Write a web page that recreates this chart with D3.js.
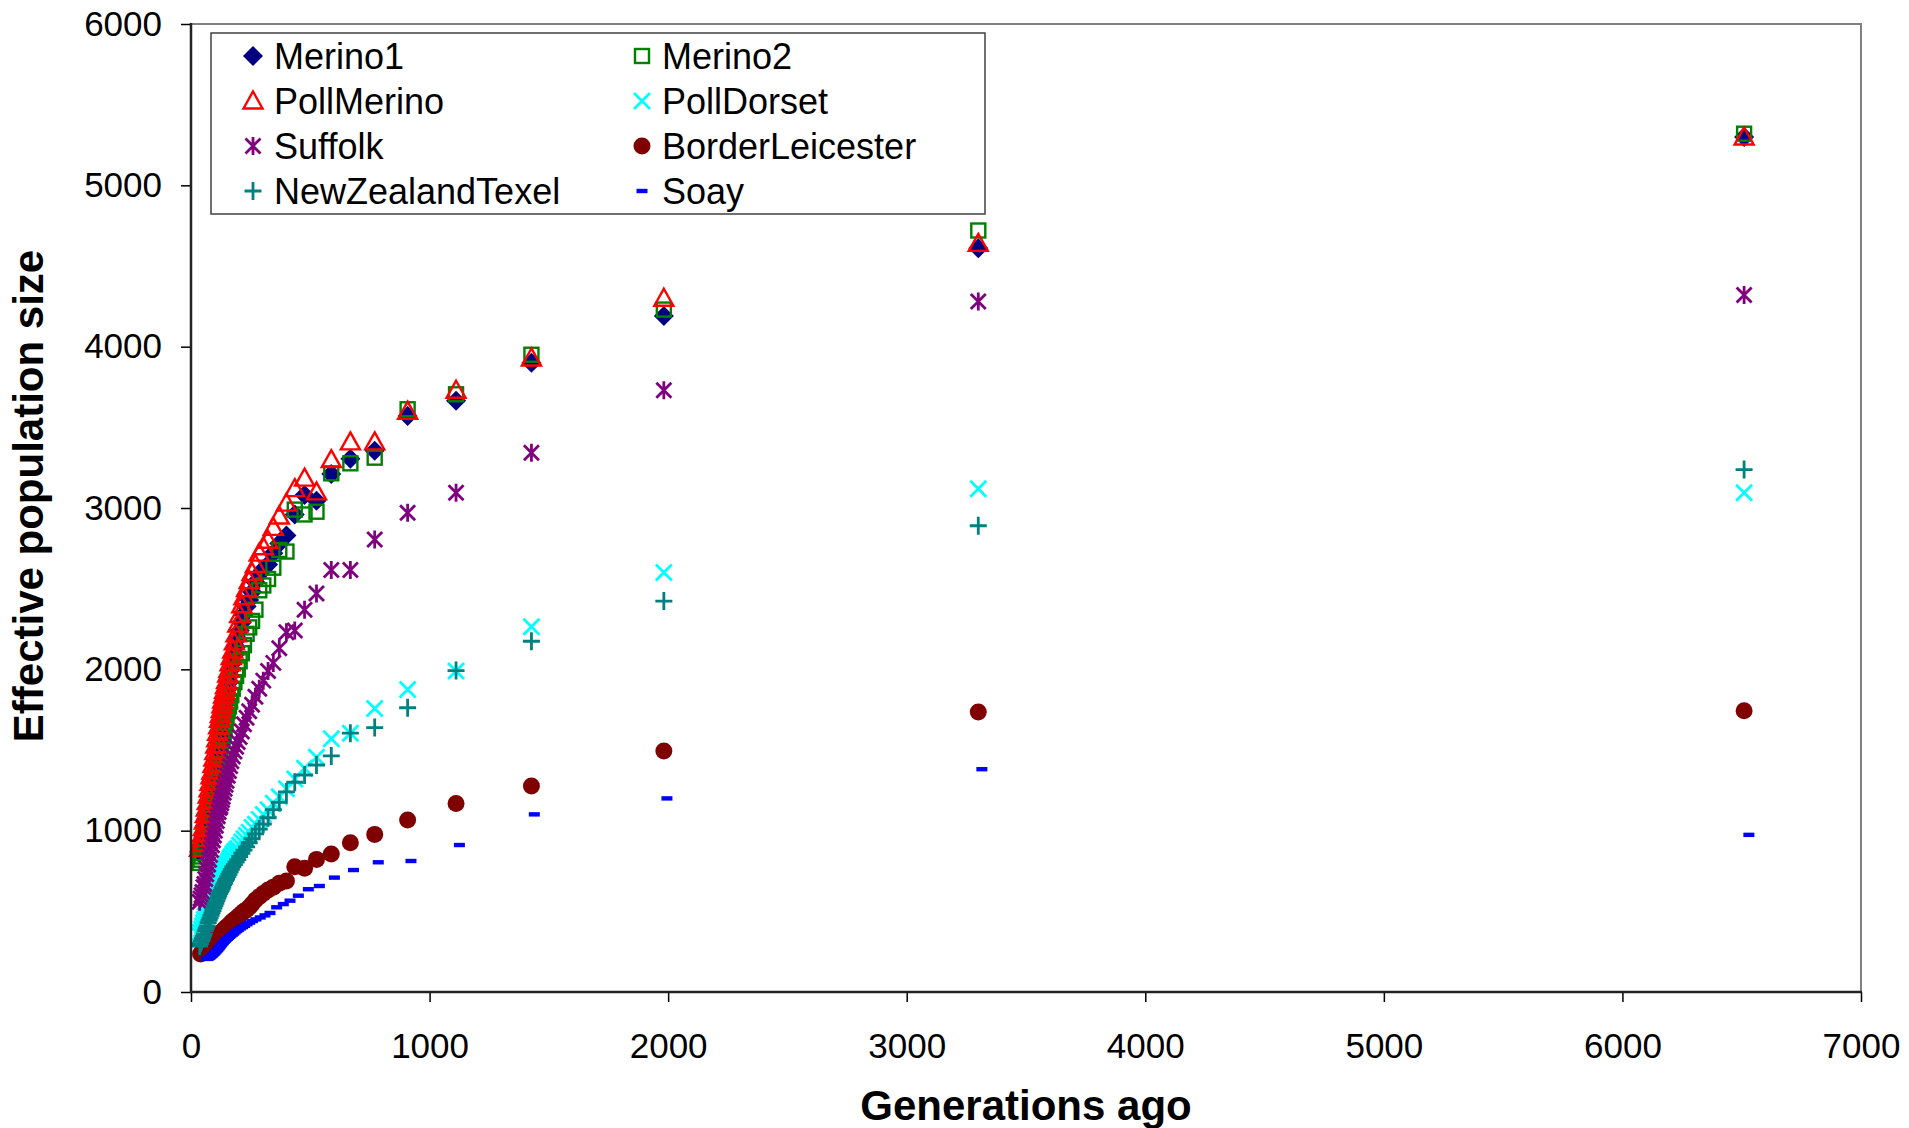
<!DOCTYPE html>
<html><head><meta charset="utf-8">
<script src="https://cdn.jsdelivr.net/npm/d3@7"></script>
<style>body{margin:0;background:#fff} svg{display:block}</style>
</head><body><svg id="c" width="1909" height="1128"></svg>
<script>
// ---- data ----
const generations = [6510, 3300, 1982, 1427, 1111, 908, 770, 668, 588, 526, 476, 435, 400, 370, 345, 323, 303, 286, 270, 256, 244, 233, 222, 213, 204, 196, 189, 182, 175, 169, 164, 159, 154, 149, 145, 141, 137, 133, 130, 127, 123, 120, 116, 112, 108, 104, 100, 96, 92, 88, 84, 80, 76, 72, 68, 64, 60, 56, 52, 48, 44, 40, 36];
const generationsSoay = [6530, 3315, 1995, 1439, 1125, 922, 785, 681, 601, 538, 492, 450, 415, 387, 359, 331, 310, 290, 272, 258, 246, 235, 225, 216, 207, 199, 192, 185, 179, 173, 167, 162, 157, 153, 148, 144, 140, 136, 133, 129, 126, 123, 120, 117, 114, 111, 108, 105, 102, 99, 96, 93, 90, 87, 84, 81, 78, 75, 72, 69, 66];

const merino1 = [5300, 4610, 4190, 3900, 3665, 3570, 3355, 3305, 3210, 3045, 3080, 2960, 2830, 2780, 2720, 2650, 2620, 2590, 2540, 2480, 2430, 2390, 2340, 2290, 2240, 2190, 2140, 2090, 2040, 2000, 1960, 1920, 1880, 1840, 1810, 1780, 1750, 1710, 1680, 1650, 1620, 1590, 1550, 1510, 1480, 1440, 1400, 1360, 1330, 1290, 1250, 1210, 1180, 1140, 1100, 1060, 1030, 990, 960, 930, 900, 880, 860];
const merino2 = [5320, 4720, 4230, 3950, 3705, 3612, 3312, 3277, 3215, 2977, 2960, 2990, 2730, 2740, 2630, 2560, 2520, 2490, 2370, 2300, 2260, 2220, 2150, 2100, 2050, 2000, 1960, 1920, 1880, 1840, 1800, 1770, 1740, 1700, 1670, 1640, 1610, 1580, 1560, 1530, 1500, 1470, 1440, 1400, 1370, 1330, 1300, 1260, 1230, 1190, 1160, 1120, 1090, 1050, 1020, 980, 950, 920, 890, 860, 840, 820, 800];
const pollMerino = [5300, 4640, 4300, 3930, 3730, 3600, 3410, 3410, 3300, 3100, 3185, 3120, 3030, 2950, 2880, 2800, 2760, 2720, 2650, 2600, 2550, 2500, 2450, 2400, 2340, 2280, 2220, 2170, 2120, 2080, 2040, 2000, 1970, 1930, 1900, 1870, 1840, 1810, 1780, 1750, 1720, 1690, 1650, 1610, 1570, 1530, 1490, 1450, 1410, 1370, 1340, 1300, 1260, 1220, 1180, 1140, 1100, 1060, 1020, 980, 950, 920, 890];
const pollDorset = [3094, 3120, 2600, 2264, 1990, 1875, 1757, 1604, 1570, 1455, 1387, 1320, 1260, 1210, 1170, 1130, 1100, 1070, 1040, 1020, 990, 970, 950, 930, 910, 890, 880, 870, 855, 840, 830, 815, 800, 790, 780, 770, 760, 750, 740, 730, 720, 710, 700, 690, 670, 660, 640, 620, 610, 590, 570, 560, 540, 520, 500, 480, 470, 450, 430, 410, 390, 370, 350];
const suffolk = [4320, 4280, 3730, 3343, 3094, 2970, 2805, 2616, 2616, 2470, 2370, 2240, 2230, 2130, 2040, 1990, 1930, 1880, 1830, 1780, 1740, 1700, 1660, 1615, 1580, 1550, 1520, 1490, 1460, 1430, 1400, 1370, 1340, 1310, 1285, 1260, 1235, 1210, 1190, 1170, 1150, 1140, 1115, 1090, 1060, 1030, 1000, 970, 940, 910, 880, 850, 820, 790, 760, 730, 700, 670, 650, 620, 600, 580, 560];
const borderLeicester = [1743, 1736, 1494, 1277, 1168, 1066, 977, 925, 855, 822, 767, 777, 688, 674, 650, 632, 610, 591, 570, 545, 525, 510, 500, 488, 475, 465, 455, 446, 440, 430, 422, 415, 408, 402, 395, 390, 385, 378, 372, 368, 362, 358, 352, 345, 340, 333, 325, 320, 315, 308, 300, 295, 288, 282, 275, 268, 262, 255, 250, 245, 240, 235];
const newZealandTexel = [3238, 2890, 2423, 2174, 1992, 1762, 1639, 1604, 1463, 1407, 1345, 1300, 1240, 1175, 1130, 1080, 1040, 1010, 980, 950, 925, 900, 880, 860, 840, 820, 805, 790, 775, 760, 745, 730, 715, 700, 690, 675, 665, 650, 640, 630, 620, 610, 595, 580, 565, 550, 535, 520, 505, 490, 475, 460, 445, 430, 410, 395, 380, 360, 345, 330, 315, 300, 285];
const soay = [974, 1381, 1200, 1101, 911, 812, 804, 756, 709, 657, 637, 597, 566, 545, 525, 490, 475, 462, 450, 440, 430, 420, 410, 402, 394, 386, 378, 370, 362, 355, 348, 342, 336, 330, 324, 318, 312, 306, 300, 294, 288, 282, 276, 270, 265, 260, 255, 250, 245, 240, 236, 232, 228, 224, 220, 216, 213, 210, 208, 206, 205];

const seriesNames = ["Merino1", "Merino2", "PollMerino", "PollDorset", "Suffolk", "BorderLeicester", "NewZealandTexel", "Soay"];
const xTicks = [0, 1000, 2000, 3000, 4000, 5000, 6000, 7000];
const yTicks = [0, 1000, 2000, 3000, 4000, 5000, 6000];

// ---- setup ----
const W = 1909, H = 1128;
const m = {l: 191, r: 1861, t: 24, b: 992};
const FONT = "Arial, 'Liberation Sans', sans-serif";
const x = d3.scaleLinear().domain([0, 7000]).range([m.l, m.r]);
const y = d3.scaleLinear().domain([0, 6000]).range([m.b, m.t]);
const svg = d3.select('#c');
svg.append('rect').attr('width', W).attr('height', H).attr('fill', '#fff');

const series = [
  {name: seriesNames[0], gens: generations, vals: merino1, shape: 'diamond', color: '#000080'},
  {name: seriesNames[1], gens: generations, vals: merino2, shape: 'square', color: '#008000'},
  {name: seriesNames[2], gens: generations, vals: pollMerino, shape: 'triangle', color: '#FF0000'},
  {name: seriesNames[3], gens: generations, vals: pollDorset, shape: 'x', color: '#00FFFF'},
  {name: seriesNames[4], gens: generations, vals: suffolk, shape: 'star', color: '#800080'},
  {name: seriesNames[5], gens: generations, vals: borderLeicester, shape: 'circle', color: '#800000'},
  {name: seriesNames[6], gens: generations, vals: newZealandTexel, shape: 'plus', color: '#008080'},
  {name: seriesNames[7], gens: generationsSoay, vals: soay, shape: 'dash', color: '#0000FF'}
];

function drawSymbol(g, shape, color) {
  switch (shape) {
    case 'diamond':
      g.append('path').attr('d', 'M0,-10L10,0L0,10L-10,0Z').attr('fill', color); break;
    case 'square':
      g.append('rect').attr('x', -7).attr('y', -7).attr('width', 14).attr('height', 14)
        .attr('fill', 'none').attr('stroke', color).attr('stroke-width', 2.4); break;
    case 'triangle':
      g.append('path').attr('d', 'M0,-9.5L9.5,7.5L-9.5,7.5Z').attr('fill', 'none')
        .attr('stroke', color).attr('stroke-width', 2.4).attr('stroke-linejoin', 'miter'); break;
    case 'x':
      g.append('path').attr('d', 'M-8,-8L8,8M-8,8L8,-8').attr('stroke', color).attr('stroke-width', 2.8); break;
    case 'star':
      g.append('path').attr('d', 'M-7.5,-7.5L7.5,7.5M-7.5,7.5L7.5,-7.5M0,-9L0,9').attr('stroke', color).attr('stroke-width', 2.8); break;
    case 'circle':
      g.append('circle').attr('r', 8.5).attr('fill', color); break;
    case 'plus':
      g.append('path').attr('d', 'M-8.5,0L8.5,0M0,-9L0,9').attr('stroke', color).attr('stroke-width', 2.8); break;
    case 'dash':
      g.append('rect').attr('x', -5.5).attr('y', -2.2).attr('width', 11).attr('height', 4.4).attr('fill', color); break;
  }
}

// ---- points ----
const plot = svg.append('g');
series.forEach(s => {
  plot.append('g').selectAll('g')
    .data(d3.zip(s.gens, s.vals))
    .join('g')
    .attr('transform', d => `translate(${x(d[0])},${y(d[1])})`)
    .each(function() { drawSymbol(d3.select(this), s.shape, s.color); });
});

// ---- frame & axes ----
svg.append('path').attr('d', `M${m.l},${m.t}H${m.r}V${m.b}`)
  .attr('fill', 'none').attr('stroke', '#808080').attr('stroke-width', 2);

const gx = svg.append('g').attr('transform', `translate(0,${m.b})`)
  .call(d3.axisBottom(x).tickValues(xTicks).tickSize(10).tickPadding(31).tickFormat(d3.format('d')));
const gy = svg.append('g').attr('transform', `translate(${m.l},0)`)
  .call(d3.axisLeft(y).tickValues(yTicks).tickSize(10).tickPadding(19).tickFormat(d3.format('d')));
[gx, gy].forEach(g => {
  g.select('.domain').remove();
  g.attr('font-size', 35).attr('font-family', FONT);
  g.selectAll('.tick line').attr('stroke', '#000').attr('stroke-width', 1.5);
  g.selectAll('.tick text').attr('fill', '#000');
});
svg.append('path').attr('d', `M${m.l},${m.t - 1}V${m.b}H${m.r + 1}`)
  .attr('fill', 'none').attr('stroke', '#222').attr('stroke-width', 2.5);

// ---- axis titles ----
svg.append('text').attr('x', (m.l + m.r) / 2).attr('y', 1120)
  .attr('text-anchor', 'middle').attr('font-family', FONT).attr('font-weight', 'bold')
  .attr('font-size', 42).attr('fill', '#000').text('Generations ago');
svg.append('text').attr('transform', `translate(43,496) rotate(-90)`)
  .attr('text-anchor', 'middle').attr('font-family', FONT).attr('font-weight', 'bold')
  .attr('font-size', 42).attr('fill', '#000').text('Effective population size');

// ---- legend ----
const lg = svg.append('g');
lg.append('rect').attr('x', 211).attr('y', 33).attr('width', 774).attr('height', 181)
  .attr('fill', '#fff').attr('stroke', '#404040').attr('stroke-width', 1.5);
const colMarker = [253, 642], colText = [274, 662];
series.forEach((s, i) => {
  const row = Math.floor(i / 2), col = i % 2;
  const cy = 56 + 45 * row;
  const g = lg.append('g').attr('transform', `translate(${colMarker[col]},${cy})`);
  drawSymbol(g, s.shape, s.color);
  lg.append('text').attr('x', colText[col]).attr('y', cy + 12.5)
    .attr('font-family', FONT).attr('font-size', 36).attr('fill', '#000').text(s.name);
});
</script>
</body></html>
